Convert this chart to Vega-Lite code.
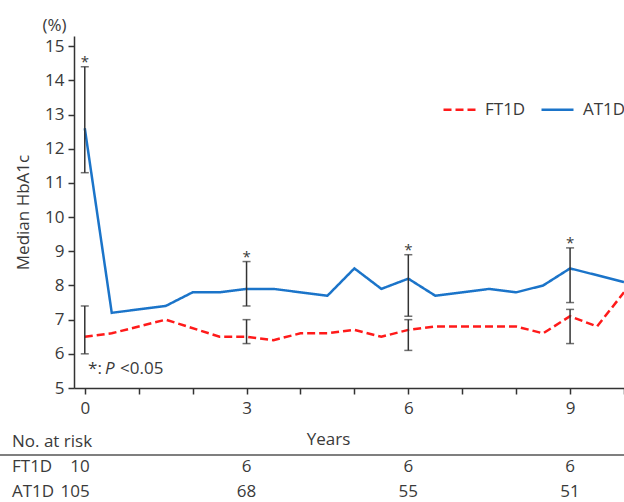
{
  "$schema": "https://vega.github.io/schema/vega-lite/v6.json",
  "width": 550,
  "height": 352,
  "autosize": {"type": "none"},
  "padding": {"left": 74, "top": 36, "right": 0, "bottom": 114},
  "config": {
    "font": "Open Sans",
    "view": {"stroke": null},
    "text": {"font": "Open Sans", "color": "#3a3a3a", "fontSize": 17},
    "axis": {
      "grid": false,
      "domainColor": "#333333",
      "tickColor": "#333333",
      "domainWidth": 1.5,
      "tickWidth": 1.5,
      "tickSize": 6,
      "labelFont": "Open Sans",
      "labelFontSize": 17,
      "labelColor": "#3a3a3a",
      "labelOverlap": false,
      "titleFont": "Open Sans",
      "titleFontSize": 17,
      "titleFontWeight": "normal",
      "titleColor": "#3a3a3a"
    },
    "axisY": {"tickCount": 11}
  },
  "datasets": {
    "lines": [
      {"year": 0, "group": "AT1D", "hba1c": 12.6},
      {"year": 0.5, "group": "AT1D", "hba1c": 7.2},
      {"year": 1.5, "group": "AT1D", "hba1c": 7.4},
      {"year": 2, "group": "AT1D", "hba1c": 7.8},
      {"year": 2.5, "group": "AT1D", "hba1c": 7.8},
      {"year": 3, "group": "AT1D", "hba1c": 7.9},
      {"year": 3.5, "group": "AT1D", "hba1c": 7.9},
      {"year": 4.5, "group": "AT1D", "hba1c": 7.7},
      {"year": 5, "group": "AT1D", "hba1c": 8.5},
      {"year": 5.5, "group": "AT1D", "hba1c": 7.9},
      {"year": 6, "group": "AT1D", "hba1c": 8.2},
      {"year": 6.5, "group": "AT1D", "hba1c": 7.7},
      {"year": 7.5, "group": "AT1D", "hba1c": 7.9},
      {"year": 8, "group": "AT1D", "hba1c": 7.8},
      {"year": 8.5, "group": "AT1D", "hba1c": 8.0},
      {"year": 9, "group": "AT1D", "hba1c": 8.5},
      {"year": 10, "group": "AT1D", "hba1c": 8.1},
      {"year": 0, "group": "FT1D", "hba1c": 6.5},
      {"year": 0.5, "group": "FT1D", "hba1c": 6.6},
      {"year": 1.5, "group": "FT1D", "hba1c": 7.0},
      {"year": 2.5, "group": "FT1D", "hba1c": 6.5},
      {"year": 3, "group": "FT1D", "hba1c": 6.5},
      {"year": 3.5, "group": "FT1D", "hba1c": 6.4},
      {"year": 4, "group": "FT1D", "hba1c": 6.6},
      {"year": 4.5, "group": "FT1D", "hba1c": 6.6},
      {"year": 5, "group": "FT1D", "hba1c": 6.7},
      {"year": 5.5, "group": "FT1D", "hba1c": 6.5},
      {"year": 6, "group": "FT1D", "hba1c": 6.7},
      {"year": 6.5, "group": "FT1D", "hba1c": 6.8},
      {"year": 8, "group": "FT1D", "hba1c": 6.8},
      {"year": 8.5, "group": "FT1D", "hba1c": 6.6},
      {"year": 9, "group": "FT1D", "hba1c": 7.1},
      {"year": 9.5, "group": "FT1D", "hba1c": 6.8},
      {"year": 10, "group": "FT1D", "hba1c": 7.8}
    ],
    "bars": [
      {"year": 0, "group": "AT1D", "lo": 11.3, "hi": 14.4},
      {"year": 0, "group": "FT1D", "lo": 6.0, "hi": 7.4},
      {"year": 3, "group": "AT1D", "lo": 7.4, "hi": 8.7},
      {"year": 3, "group": "FT1D", "lo": 6.3, "hi": 7.0},
      {"year": 6, "group": "AT1D", "lo": 7.1, "hi": 8.9},
      {"year": 6, "group": "FT1D", "lo": 6.1, "hi": 7.0},
      {"year": 9, "group": "AT1D", "lo": 7.5, "hi": 9.1},
      {"year": 9, "group": "FT1D", "lo": 6.3, "hi": 7.3}
    ],
    "risk": [
      {"group": "FT1D", "year": 0, "n": 10},
      {"group": "FT1D", "year": 3, "n": 6},
      {"group": "FT1D", "year": 6, "n": 6},
      {"group": "FT1D", "year": 9, "n": 6},
      {"group": "AT1D", "year": 0, "n": 105},
      {"group": "AT1D", "year": 3, "n": 68},
      {"group": "AT1D", "year": 6, "n": 55},
      {"group": "AT1D", "year": 9, "n": 51}
    ]
  },
  "layer": [
    {
      "data": {"name": "lines"},
      "mark": {"type": "line", "strokeWidth": 2.5},
      "encoding": {
        "x": {
          "field": "year", "type": "quantitative",
          "scale": {"domain": [-0.2, 10], "nice": false, "zero": false},
          "axis": {
            "values": [0, 1, 2, 3, 4, 5, 6, 7, 8, 9, 10],
            "labelExpr": "datum.value % 3 == 0 ? datum.label : ''",
            "labelOverlap": false,
            "labelPadding": 6,
            "title": "Years",
            "titleX": 254,
            "titlePadding": 15
          }
        },
        "y": {
          "field": "hba1c", "type": "quantitative",
          "scale": {"domain": [5, 15.3], "nice": false, "zero": false},
          "axis": {
            "values": [5, 6, 7, 8, 9, 10, 11, 12, 13, 14, 15],
            "tickCount": 11,
            "labelOverlap": false,
            "labelPadding": 4,
            "title": "Median HbA1c",
            "titlePadding": 12
          }
        },
        "color": {
          "field": "group", "type": "nominal",
          "scale": {"domain": ["FT1D", "AT1D"], "range": ["#ff1a1a", "#1b74c9"]},
          "legend": {
            "orient": "none", "legendX": 368, "legendY": 56,
            "direction": "horizontal", "title": null,
            "symbolType": "stroke", "symbolSize": 1024, "symbolStrokeWidth": 2.5,
            "labelFontSize": 17, "labelColor": "#3a3a3a", "labelFont": "Open Sans",
            "labelOffset": 8, "columnPadding": 10
          }
        },
        "strokeDash": {
          "field": "group", "type": "nominal",
          "scale": {"domain": ["FT1D", "AT1D"], "range": [[8, 4], [1, 0]]},
          "legend": {
            "orient": "none", "legendX": 368, "legendY": 56,
            "direction": "horizontal", "title": null,
            "symbolType": "stroke", "symbolSize": 1024, "symbolStrokeWidth": 2.5,
            "labelFontSize": 17, "labelColor": "#3a3a3a", "labelFont": "Open Sans",
            "labelOffset": 8, "columnPadding": 10
          }
        }
      }
    },
    {
      "data": {"name": "bars"},
      "mark": {"type": "rule", "color": "#333333", "strokeWidth": 1.5},
      "encoding": {
        "x": {"field": "year", "type": "quantitative"},
        "y": {"field": "lo", "type": "quantitative"},
        "y2": {"field": "hi"}
      }
    },
    {
      "data": {"name": "bars"},
      "mark": {"type": "tick", "orient": "horizontal", "color": "#333333", "size": 8, "thickness": 1.5},
      "encoding": {
        "x": {"field": "year", "type": "quantitative"},
        "y": {"field": "lo", "type": "quantitative"}
      }
    },
    {
      "data": {"name": "bars"},
      "mark": {"type": "tick", "orient": "horizontal", "color": "#333333", "size": 8, "thickness": 1.5},
      "encoding": {
        "x": {"field": "year", "type": "quantitative"},
        "y": {"field": "hi", "type": "quantitative"}
      }
    },
    {
      "data": {"name": "bars"},
      "transform": [{"filter": "datum.group == 'AT1D'"}],
      "mark": {"type": "text", "text": "*", "fontSize": 15, "baseline": "alphabetic", "dy": 0, "align": "center"},
      "encoding": {
        "x": {"field": "year", "type": "quantitative"},
        "y": {"field": "hi", "type": "quantitative"}
      }
    },
    {
      "data": {"values": [{}]},
      "mark": {"type": "text", "text": "*:", "align": "left", "baseline": "middle"},
      "encoding": {"x": {"datum": 0.06}, "y": {"datum": 5.56}}
    },
    {
      "data": {"values": [{}]},
      "mark": {"type": "text", "text": "P", "fontStyle": "italic", "align": "left", "baseline": "middle", "dx": 17},
      "encoding": {"x": {"datum": 0.06}, "y": {"datum": 5.56}}
    },
    {
      "data": {"values": [{}]},
      "mark": {"type": "text", "text": "<0.05", "align": "left", "baseline": "middle", "dx": 32},
      "encoding": {"x": {"datum": 0.06}, "y": {"datum": 5.56}}
    },
    {
      "data": {"values": [{}]},
      "mark": {"type": "text", "text": "(%)", "align": "center", "baseline": "middle"},
      "encoding": {"x": {"datum": -0.56}, "y": {"datum": 15.6}}
    },
    {
      "data": {"values": [{}]},
      "mark": {"type": "rule", "color": "#555555", "strokeWidth": 1.5},
      "encoding": {"x": {"datum": -1.6}, "x2": {"datum": 10}, "y": {"datum": 3.04}}
    },
    {
      "data": {"values": [{}]},
      "mark": {"type": "text", "text": "No. at risk", "align": "left", "baseline": "middle"},
      "encoding": {"x": {"datum": -1.35}, "y": {"datum": 3.42}}
    },
    {
      "data": {"name": "risk"},
      "transform": [{"filter": "datum.group == 'FT1D' && datum.year == 0"}],
      "mark": {"type": "text", "align": "left", "baseline": "middle"},
      "encoding": {"x": {"datum": -1.35}, "y": {"datum": 2.69}, "text": {"field": "group"}}
    },
    {
      "data": {"name": "risk"},
      "transform": [{"filter": "datum.group == 'AT1D' && datum.year == 0"}],
      "mark": {"type": "text", "align": "left", "baseline": "middle"},
      "encoding": {"x": {"datum": -1.35}, "y": {"datum": 1.96}, "text": {"field": "group"}}
    },
    {
      "data": {"name": "risk"},
      "transform": [{"filter": "datum.group == 'FT1D' && datum.year == 0"}],
      "mark": {"type": "text", "align": "right", "baseline": "middle", "dx": 5},
      "encoding": {"x": {"field": "year", "type": "quantitative"}, "y": {"datum": 2.69}, "text": {"field": "n"}}
    },
    {
      "data": {"name": "risk"},
      "transform": [{"filter": "datum.group == 'AT1D' && datum.year == 0"}],
      "mark": {"type": "text", "align": "right", "baseline": "middle", "dx": 5},
      "encoding": {"x": {"field": "year", "type": "quantitative"}, "y": {"datum": 1.96}, "text": {"field": "n"}}
    },
    {
      "data": {"name": "risk"},
      "transform": [{"filter": "datum.group == 'FT1D' && datum.year > 0"}],
      "mark": {"type": "text", "align": "center", "baseline": "middle"},
      "encoding": {"x": {"field": "year", "type": "quantitative"}, "y": {"datum": 2.69}, "text": {"field": "n"}}
    },
    {
      "data": {"name": "risk"},
      "transform": [{"filter": "datum.group == 'AT1D' && datum.year > 0"}],
      "mark": {"type": "text", "align": "center", "baseline": "middle"},
      "encoding": {"x": {"field": "year", "type": "quantitative"}, "y": {"datum": 1.96}, "text": {"field": "n"}}
    }
  ]
}
